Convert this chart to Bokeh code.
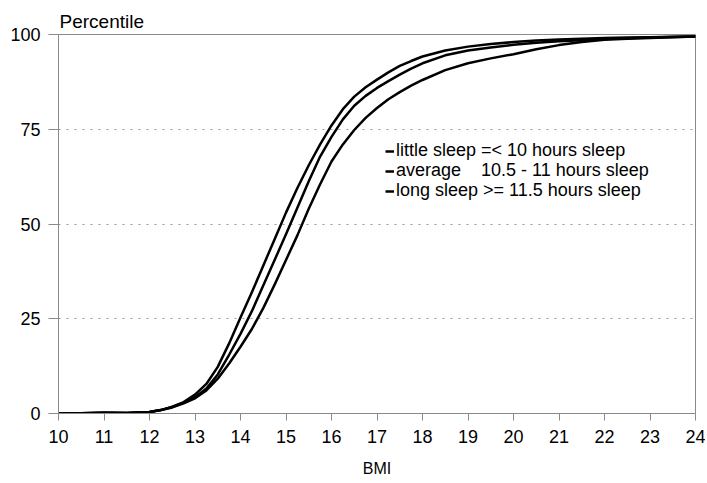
from bokeh.plotting import figure
from bokeh.models import Range1d, FixedTicker, Legend, LegendItem
from bokeh.embed import file_html
from bokeh.resources import INLINE

bmi = [10, 10.5, 11, 11.5,
       12, 12.25, 12.5, 12.75, 13, 13.25, 13.5, 13.75, 14, 14.25, 14.5, 14.75,
       15, 15.25, 15.5, 15.75, 16, 16.25, 16.5, 16.75, 17, 17.25, 17.5, 17.75, 18,
       18.5, 19, 19.5, 20, 20.5, 21, 21.5, 22, 22.5, 23, 23.5, 24]

long_sleep = [0, 0.05, 0.2, 0.1,
              0.4, 0.9, 1.8, 3.0, 5.0, 7.8, 12.3, 18.5, 25.3, 32, 39, 46,
              53, 59.5, 65.5, 71, 76, 80.3, 83.6, 86.1, 88.1, 90, 91.7, 93, 94.2,
              95.8, 96.8, 97.5, 98, 98.4, 98.7, 98.9, 99.1, 99.2, 99.3, 99.4, 99.5]
average_sleep = [0, 0.05, 0.2, 0.1,
                 0.4, 0.9, 1.7, 2.8, 4.3, 6.6, 10.3, 15.5, 21, 27, 33.8, 40.5,
                 47.3, 54.3, 61.3, 67.8, 73, 77.6, 81.2, 83.8, 85.9, 87.7, 89.4, 91.0, 92.4,
                 94.5, 95.8, 96.6, 97.3, 97.8, 98.2, 98.5, 98.8, 99.0, 99.2, 99.35, 99.5]
little_sleep = [0, 0.05, 0.2, 0.1,
                0.4, 0.9, 1.6, 2.7, 4.0, 6.1, 9.2, 13.2, 17.6, 22.3, 27.8, 34,
                40.5, 47, 54, 60.5, 66.5, 71, 74.8, 78, 80.6, 82.9, 84.8, 86.5, 88,
                90.6, 92.4, 93.7, 94.8, 96.1, 97.2, 98.0, 98.6, 98.9, 99.1, 99.3, 99.5]

labels = ["little sleep =< 10 hours sleep",
          "average    10.5 - 11 hours sleep",
          "long sleep >= 11.5 hours sleep"]

x_ticks = list(range(10, 25))
y_ticks = [0, 25, 50, 75, 100]

FONT = "Liberation Sans"
GRAY = "#8a8a8a"

p = figure(width=705, height=483, x_range=Range1d(10, 24), y_range=Range1d(0, 100),
           output_backend="svg", toolbar_location=None,
           min_border_left=58, min_border_right=10, min_border_top=34, min_border_bottom=70)

p.outline_line_color = GRAY
p.outline_line_width = 1
p.background_fill_color = "white"

# title used as the y-axis caption
p.title.text = "Percentile"
p.title.align = "left"
p.title.text_font = FONT
p.title.text_font_size = "19px"
p.title.text_font_style = "normal"
p.title.text_color = "black"
p.title.offset = 1
p.title.standoff = 5

# axes
p.xaxis.ticker = FixedTicker(ticks=x_ticks)
p.yaxis.ticker = FixedTicker(ticks=y_ticks)
for ax in (p.xaxis[0], p.yaxis[0]):
    ax.axis_line_color = GRAY
    ax.major_tick_line_color = GRAY
    ax.minor_tick_line_color = None
    ax.major_tick_in = 0
    ax.major_label_text_font = FONT
    ax.major_label_text_font_size = "18px"
    ax.major_label_text_color = "black"
p.xaxis.major_tick_out = 7
p.xaxis.major_label_standoff = 9
p.yaxis.major_tick_out = 10
p.yaxis.major_label_standoff = 8
p.xaxis.axis_label = "BMI"
p.xaxis.axis_label_text_font = FONT
p.xaxis.axis_label_text_font_size = "16px"
p.xaxis.axis_label_text_font_style = "normal"
p.xaxis.axis_label_text_color = "black"
p.xaxis.axis_label_standoff = 14

# grid
p.xgrid.grid_line_color = None
p.ygrid.ticker = FixedTicker(ticks=[25, 50, 75])
p.ygrid.grid_line_color = "#999999"
p.ygrid.grid_line_dash = "2 6"
p.ygrid.grid_line_width = 1

r1 = p.line(bmi, little_sleep, line_color="black", line_width=2.5, line_join="round")
r2 = p.line(bmi, average_sleep, line_color="black", line_width=2.5, line_join="round")
r3 = p.line(bmi, long_sleep, line_color="black", line_width=2.5, line_join="round")

for lab, rend, ypos in zip(labels, (r1, r2, r3), (252, 232, 212)):
    lg = Legend(items=[LegendItem(label=lab, renderers=[rend])],
                location=(327, ypos), border_line_color=None, background_fill_alpha=0,
                padding=0, margin=0, spacing=0, glyph_width=9, glyph_height=18,
                label_height=18, label_standoff=2,
                label_text_font=FONT, label_text_font_size="18px",
                label_text_color="black")
    p.add_layout(lg, "center")

open("out.html", "w").write(file_html(p, INLINE))
